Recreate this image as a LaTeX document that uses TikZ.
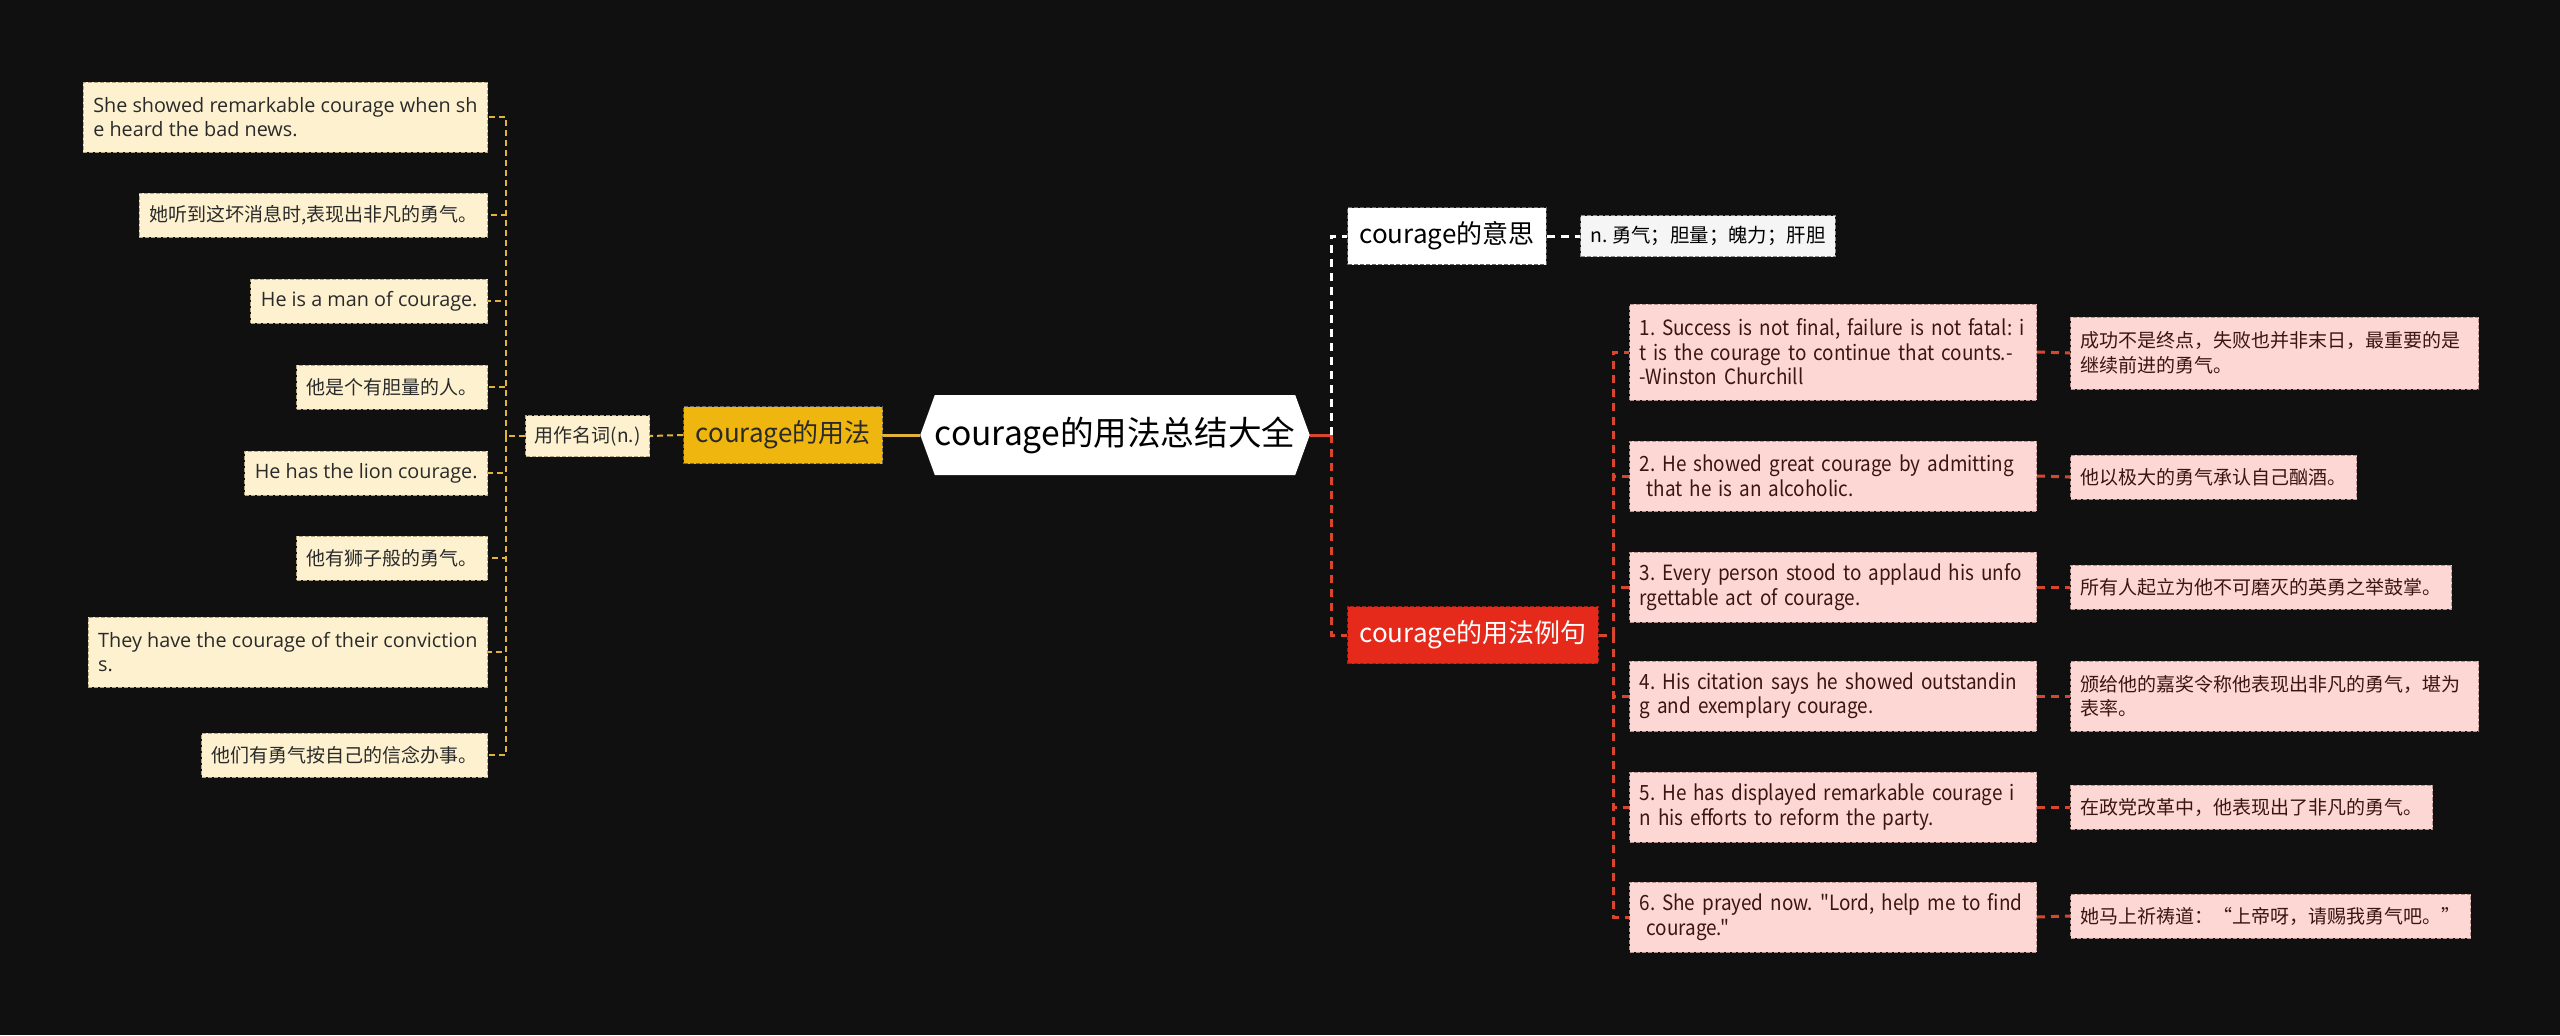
\documentclass[tikz,border=0pt]{standalone}
\usepackage{fontspec}
\setmainfont{Noto Sans CJK SC}
\newfontfamily\latinfont{Open Sans}
\newfontfamily\narrowfont[FakeStretch=0.9]{Noto Sans CJK SC}
\frenchspacing
\usetikzlibrary{shapes.symbols}
\definecolor{bg}{HTML}{101010}
\definecolor{amber}{HTML}{EFB60F}
\definecolor{cream}{HTML}{FDF1D0}
\definecolor{creamline}{HTML}{B5A57C}
\definecolor{goldline}{HTML}{E2B33C}
\definecolor{scarlet}{HTML}{E52A1B}
\definecolor{pink}{HTML}{FDD7D4}
\definecolor{pinkline}{HTML}{B8938F}
\definecolor{redline}{HTML}{D9462F}
\definecolor{ink}{HTML}{2A2A2A}
\definecolor{brownink}{HTML}{3A1512}
\begin{document}
\begin{tikzpicture}[x=0.5pt,y=-0.5pt,
  every node/.style={inner sep=0pt,font=\fontsize{9.5pt}{12.25pt}\selectfont},
  title/.style={shape=signal,signal to=west and east,signal pointer angle=140,
    fill=white,text=black,minimum width=181pt,minimum height=40pt,
    font=\fontsize{16.8pt}{20pt}\selectfont},
  branch/.style={draw=black!60,dashed,dash pattern=on 2pt off 1pt,line width=0.5pt,
    minimum height=28.5pt,inner xsep=6pt,font=\fontsize{13pt}{16pt}\selectfont},
  leaf/.style={fill=cream,draw=creamline,dash pattern=on 2pt off 1pt,line width=0.5pt,
    text=ink,inner xsep=5pt,minimum height=22pt,anchor=east},
  english/.style={font=\latinfont\fontsize{9.9pt}{12.25pt}\selectfont},
  twoline/.style={minimum height=35pt,align=left},
  sample/.style={fill=pink,draw=pinkline,dash pattern=on 2pt off 1pt,line width=0.5pt,
    text=brownink,inner xsep=5pt,minimum height=22pt,anchor=west},
  quote/.style={sample,text width=193.5pt,align=left,font=\narrowfont\fontsize{10.5pt}{12.25pt}\selectfont},
  goldlink/.style={draw=goldline,line width=1pt,dash pattern=on 3pt off 2pt},
  whitelink/.style={draw=white,line width=1.5pt,dash pattern=on 4pt off 3pt},
  redlink/.style={draw=redline,line width=1.5pt,dash pattern=on 4pt off 3pt}]
\fill[bg] (0,0) rectangle (2560,1035);
\useasboundingbox (0,0) rectangle (2560,1035);

% centre
\node[title] (root) at (1115,435) {courage的用法总结大全};

% left: usage
\node[branch,fill=amber,text=ink,anchor=east] (use) at (883,435) {courage的用法};
\node[leaf,minimum height=20.5pt,inner xsep=4.5pt] (noun) at (650,436) {用作名词(n.)};
\node[leaf,twoline,english] (l1) at (488,117)
  {She showed remarkable courage when sh\\e heard the bad news.};
\node[leaf] (l2) at (488,215) {她听到这坏消息时,表现出非凡的勇气。};
\node[leaf,english] (l3) at (488,301) {He is a man of courage.};
\node[leaf] (l4) at (488,387) {他是个有胆量的人。};
\node[leaf,english] (l5) at (488,473) {He has the lion courage.};
\node[leaf] (l6) at (488,558) {他有狮子般的勇气。};
\node[leaf,twoline,english] (l7) at (488,652)
  {They have the courage of their conviction\\s.};
\node[leaf] (l8) at (488,755) {他们有勇气按自己的信念办事。};
\coordinate (lbus) at (506,436);

% right: meaning
\node[branch,fill=white,text=black,anchor=west] (mean) at (1347,236) {courage的意思};
\node[sample,fill=black!4,draw=black!45,text=black,minimum height=20.5pt,
  font=\fontsize{9.7pt}{12pt}\selectfont] (meandef) at (1580,236) {n. 勇气；胆量；魄力；肝胆};

% right: examples
\node[branch,fill=scarlet,draw=scarlet!70!black,text=white,anchor=west] (ex) at (1347,635) {courage的用法例句};
\coordinate (rbus) at (1331,435);
\coordinate (ebus) at (1613,635);
\node[quote,minimum height=48pt] (e1) at (1629,352)
  {\mbox{1. Success is not final, failure is not fatal: i}\\\mbox{t is the courage to continue that counts.-}\\-Winston Churchill};
\node[quote,minimum height=35pt] (e2) at (1629,476)
  {\mbox{2. He showed great courage by admitting}\\\mbox{\ that he is an alcoholic.}};
\node[quote,minimum height=35pt] (e3) at (1629,587)
  {\mbox{3. Every person stood to applaud his unfo}\\rgettable act of courage.};
\node[quote,minimum height=35pt] (e4) at (1629,696)
  {\mbox{4. His citation says he showed outstandin}\\g and exemplary courage.};
\node[quote,minimum height=35pt] (e5) at (1629,807)
  {\mbox{5. He has displayed remarkable courage i}\\n his efforts to reform the party.};
\node[quote,minimum height=35pt] (e6) at (1629,917)
  {\mbox{6. She prayed now. "Lord, help me to find}\\\mbox{\ courage."}};
\node[sample,text width=194pt,align=left,minimum height=36pt] (t1) at (2070,353)
  {成功不是终点，失败也并非末日，最重要的是\\继续前进的勇气。};
\node[sample] (t2) at (2070,477) {他以极大的勇气承认自己酗酒。};
\node[sample] (t3) at (2070,587) {所有人起立为他不可磨灭的英勇之举鼓掌。};
\node[sample,text width=194pt,align=left,minimum height=35pt] (t4) at (2070,696)
  {颁给他的嘉奖令称他表现出非凡的勇气，堪为\\表率。};
\node[sample] (t5) at (2070,807) {在政党改革中，他表现出了非凡的勇气。};
\node[sample] (t6) at (2070,916) {她马上祈祷道：“上帝呀，请赐我勇气吧。”};

% links
\draw[draw=goldline,line width=1.5pt] (root.west) -- (use.east);
\draw[goldlink] (use.west) -- (noun.east);
\draw[goldlink] (noun.west) -- (lbus);
\foreach \i in {1,...,8}
  \draw[goldlink] (lbus) |- (l\i.east);
\draw[draw=redline,line width=1.5pt] (root.east) -- (rbus);
\draw[whitelink] (rbus) |- (mean.west);
\draw[whitelink] (mean.east) -- (meandef.west);
\draw[redlink] (rbus) |- (ex.west);
\draw[redlink] (ex.east) -- (ebus);
\foreach \i in {1,...,6}{
  \draw[redlink] (ebus) |- (e\i.west);
  \draw[redlink] (e\i.east) -- (t\i.west);
}
\end{tikzpicture}
\end{document}
